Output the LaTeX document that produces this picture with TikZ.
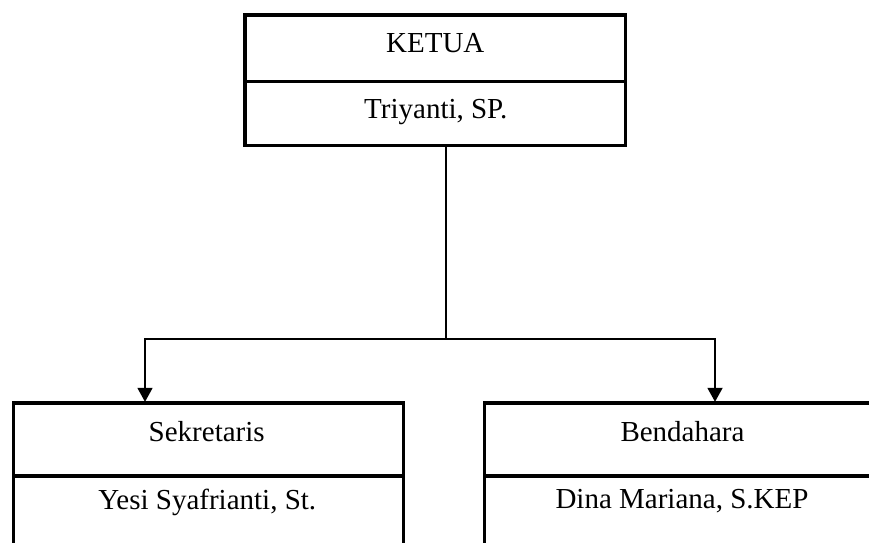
\documentclass[tikz,border=0pt]{standalone}
\usepackage{fontspec}
\setmainfont{Liberation Serif}
\usetikzlibrary{arrows.meta}
\begin{document}
\begin{tikzpicture}[x=1pt,y=-1pt,
  boxframe/.style={draw, line width=3.3pt, rectangle, inner sep=0pt, outer sep=0pt, anchor=north west},
  divider/.style={line width=3.3pt},
  lbl/.style={font=\fontsize{29}{34}\selectfont, anchor=base, inner sep=0pt},
  conn/.style={line width=1.8pt},
  arr/.style={conn, -{Triangle[length=14pt,width=15pt]}, shorten >=1.2pt}]
\useasboundingbox (0,0) rectangle (869,542);
\begin{scope}
\clip (0,0) rectangle (869,542);
% boxes
\node[boxframe, minimum width=380.6pt, minimum height=130.3pt] (ketua) at (245,15) {};
\node[boxframe, minimum width=390pt, minimum height=200pt] (sek) at (13.3,403) {};
\node[boxframe, minimum width=396pt, minimum height=200pt] (bend) at (484.3,403) {};
% dividers
\draw[divider] (ketua.west |- 0,81.3) -- (ketua.east |- 0,81.3);
\draw[divider] (sek.west |- 0,476) -- (sek.east |- 0,476);
\draw[divider] (bend.west |- 0,476) -- (bend.east |- 0,476);
% labels
\node[lbl] (t1) at (435.3,52.7) {KETUA};
\node[lbl] (t2) at (435.8,118.3) {Triyanti, SP.};
\node[lbl] (t3) at (206.7,441.7) {Sekretaris};
\node[lbl] (t4) at (207.3,509.3) {Yesi Syafrianti, St.};
\node[lbl] (t5) at (682.5,441.7) {Bendahara};
\node[lbl] (t6) at (682,508.5) {Dina Mariana, S.KEP};
% connectors
\coordinate (top) at (445.7,145.3);
\coordinate (junc) at (445.7,339);
\coordinate (hl) at (145,339);
\coordinate (hr) at (715,339);
\draw[conn] (top) -- (junc);
\draw[arr] (junc) -- (hl) -- (hl |- sek.north);
\draw[arr] (junc) -- (hr) -- (hr |- bend.north);
\end{scope}
\end{tikzpicture}
\end{document}
